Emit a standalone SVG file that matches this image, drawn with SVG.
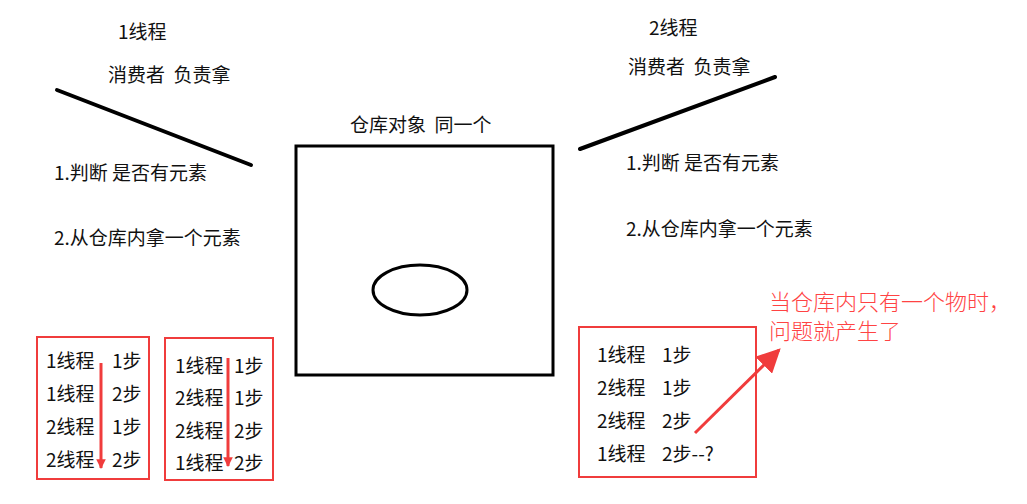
<svg xmlns="http://www.w3.org/2000/svg" width="1027" height="504" viewBox="0 0 1027 504">
<defs>
<style>
text{font-family:"Microsoft YaHei","Noto Sans CJK SC","Noto Sans",sans-serif;font-size:19px;fill:#111}
.red{fill:#ff4343;font-size:22px;font-weight:300}
.rbox{fill:none;stroke:#f03c3c;stroke-width:2}
.thick{stroke:#000;stroke-width:4;stroke-linecap:round;fill:none}
.rarrow{stroke:#f03c3c;stroke-width:3;fill:none}
</style>
<marker id="ah" viewBox="0 0 10 10" refX="9" refY="5" markerWidth="3.2" markerHeight="3.2" orient="auto" markerUnits="strokeWidth">
<path d="M0,0 L10,5 L0,10 z" fill="#f03c3c"/>
</marker>
<marker id="ahBig" viewBox="0 0 10 10" refX="9" refY="5" markerWidth="8" markerHeight="8" orient="auto" markerUnits="strokeWidth">
<path d="M0,0 L10,5 L0,10 z" fill="#f03c3c"/>
</marker>
</defs>
<rect width="1027" height="504" fill="#fff"/>

<g id="thread1">
<text x="118" y="39">1线程</text>
<text x="108" y="82" xml:space="preserve">消费者  负责拿</text>
<text x="54" y="180">1.判断 是否有元素</text>
<text x="54" y="245">2.从仓库内拿一个元素</text>
</g>

<g id="thread2">
<text x="649" y="35">2线程</text>
<text x="628" y="74" xml:space="preserve">消费者  负责拿</text>
<text x="626" y="170">1.判断 是否有元素</text>
<text x="626" y="236">2.从仓库内拿一个元素</text>
</g>

<g id="warehouse">
<text x="350" y="132" xml:space="preserve">仓库对象  同一个</text>
<rect x="296" y="146" width="257" height="229" fill="none" stroke="#000" stroke-width="3"/>
<ellipse cx="420" cy="290" rx="47" ry="25" fill="none" stroke="#000" stroke-width="3"/>
</g>

<g id="seq1">
<rect class="rbox" x="37" y="337" width="112" height="142"/>
<text x="46" y="368">1线程</text><text x="112" y="368">1步</text>
<text x="46" y="401">1线程</text><text x="112" y="401">2步</text>
<text x="46" y="434">2线程</text><text x="112" y="434">1步</text>
<text x="46" y="467">2线程</text><text x="112" y="467">2步</text>
</g>

<g id="seq2">
<rect class="rbox" x="165" y="338" width="108" height="142"/>
<text x="175" y="373">1线程</text><text x="234" y="373">1步</text>
<text x="175" y="405">2线程</text><text x="234" y="405">1步</text>
<text x="175" y="438">2线程</text><text x="234" y="438">2步</text>
<text x="175" y="470">1线程</text><text x="234" y="470">2步</text>
</g>

<g id="seq3">
<rect class="rbox" x="579" y="327" width="177" height="150" stroke-width="3"/>
<text x="597" y="362">1线程</text><text x="662" y="362">1步</text>
<text x="597" y="395">2线程</text><text x="662" y="395">1步</text>
<text x="597" y="428">2线程</text><text x="662" y="428">2步</text>
<text x="597" y="461">1线程</text><text x="662" y="461">2步--?</text>
</g>

<g id="note">
<text class="red" x="769" y="310">当仓库内只有一个物时，</text>
<text class="red" x="769" y="339">问题就产生了</text>
</g>

<g id="connectors">
<line class="thick" x1="57" y1="90" x2="251" y2="165"/>
<line class="thick" x1="580" y1="149" x2="775" y2="77"/>
<line class="rarrow" x1="101" y1="363" x2="101" y2="468" marker-end="url(#ah)"/>
<line class="rarrow" x1="228" y1="358" x2="228" y2="466" marker-end="url(#ah)"/>
<line x1="695" y1="433" x2="779" y2="350" stroke="#f03c3c" stroke-width="3" marker-end="url(#ahBig)"/>
</g>
</svg>
